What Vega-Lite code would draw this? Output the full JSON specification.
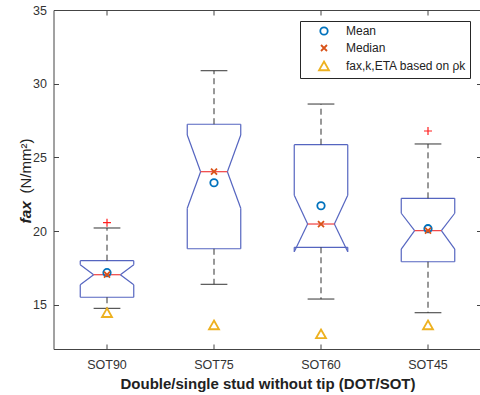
{
  "$schema": "https://vega.github.io/schema/vega-lite/v6.json",
  "autosize": {"type": "none"},
  "width": 428,
  "height": 339,
  "padding": {"left": 53.5, "top": 10, "right": 0, "bottom": 46},
  "config": {
    "font": "Liberation Sans",
    "view": {"stroke": null},
    "axis": {"grid": false, "domainColor": "#444", "tickColor": "#444", "labelColor": "#333", "titleColor": "#222", "labelFontSize": 12.5, "tickSize": -5, "domainWidth": 1, "tickWidth": 1}
  },
  "datasets": {
    "boxes": [
      {"cat": "SOT90", "wlo": 14.76, "q1": 15.51, "nlo": 16.36, "med": 17.04, "nhi": 17.72, "q3": 17.99, "whi": 20.21, "mean": 17.18, "tri": 14.46},
      {"cat": "SOT75", "wlo": 16.39, "q1": 18.80, "nlo": 21.55, "med": 24.03, "nhi": 26.52, "q3": 27.25, "whi": 30.88, "mean": 23.28, "tri": 13.63},
      {"cat": "SOT60", "wlo": 15.39, "q1": 18.90, "nlo": 18.60, "med": 20.48, "nhi": 22.43, "q3": 25.86, "whi": 28.62, "mean": 21.72, "tri": 13.02},
      {"cat": "SOT45", "wlo": 14.46, "q1": 17.92, "nlo": 18.78, "med": 20.03, "nhi": 21.21, "q3": 22.22, "whi": 25.91, "mean": 20.16, "tri": 13.63}
    ],
    "outliers": [
      {"cat": "SOT90", "value": 20.57},
      {"cat": "SOT45", "value": 26.79}
    ]
  },
  "data": {"name": "boxes"},
  "resolve": {"axis": {"x": "independent", "y": "independent"}},
  "encoding": {
    "x": {"field": "cat", "type": "nominal", "sort": ["SOT90", "SOT75", "SOT60", "SOT45"], "scale": {"paddingInner": 0, "paddingOuter": 0}, "axis": null}
  },
  "layer": [
    {
      "mark": {"type": "rule", "color": "#5565c0", "strokeWidth": 1.2},
      "encoding": {
        "x": {"field": "cat", "type": "nominal", "sort": ["SOT90", "SOT75", "SOT60", "SOT45"], "bandPosition": 0.25, "scale": {"paddingInner": 0, "paddingOuter": 0},
          "axis": {"orient": "bottom", "title": "Double/single stud without tip (DOT/SOT)", "titleFontSize": 15, "titleFontWeight": "bold", "labelAngle": 0, "labelPadding": 14, "titlePadding": 6}},
        "x2": {"field": "cat", "bandPosition": 0.75},
        "y": {"field": "q3", "type": "quantitative", "scale": {"domain": [12, 35], "nice": false, "zero": false},
          "axis": {"orient": "left", "values": [15, 20, 25, 30, 35], "title": "fax", "titleFontSize": 15.5, "titleFontWeight": "bold", "titleFontStyle": "italic", "labelPadding": 12, "titleAngle": -90, "titleAlign": "left", "titleBaseline": "alphabetic", "titleX": -23.5, "titleY": 213}}
      }
    },
    {
      "mark": {"type": "rule", "color": "#5565c0", "strokeWidth": 1.2},
      "encoding": {
        "x": {"field": "cat", "type": "nominal", "sort": ["SOT90", "SOT75", "SOT60", "SOT45"], "bandPosition": 0.25,
          "axis": {"orient": "top", "labels": false, "title": null, "domainColor": "#444"}},
        "x2": {"field": "cat", "bandPosition": 0.75},
        "y": {"field": "q1", "type": "quantitative",
          "axis": {"orient": "right", "values": [15, 20, 25, 30, 35], "labels": false, "title": null}}
      }
    },
    {
      "mark": {"type": "rule", "color": "#5565c0", "strokeWidth": 1.2},
      "encoding": {
        "x": {"field": "cat", "type": "nominal", "sort": ["SOT90", "SOT75", "SOT60", "SOT45"], "bandPosition": 0.25, "axis": null},
        "y": {"field": "q3", "type": "quantitative",
          "axis": {"orient": "left", "labels": false, "ticks": false, "domain": false, "title": "(N/mm²)", "titleFontSize": 15, "titleFontWeight": "normal", "titleAngle": -90, "titleAlign": "left", "titleBaseline": "alphabetic", "titleX": -23.5, "titleY": 183}},
        "y2": {"field": "nhi"}
      }
    },
    {
      "mark": {"type": "rule", "color": "#5565c0", "strokeWidth": 1.2},
      "encoding": {
        "x": {"field": "cat", "type": "nominal", "sort": ["SOT90", "SOT75", "SOT60", "SOT45"], "bandPosition": 0.75, "axis": null},
        "y": {"field": "q3", "type": "quantitative", "axis": null},
        "y2": {"field": "nhi"}
      }
    },
    {
      "mark": {"type": "rule", "color": "#5565c0", "strokeWidth": 1.2},
      "encoding": {
        "x": {"field": "cat", "type": "nominal", "sort": ["SOT90", "SOT75", "SOT60", "SOT45"], "bandPosition": 0.25, "axis": null},
        "x2": {"field": "cat", "bandPosition": 0.375},
        "y": {"field": "nhi", "type": "quantitative", "axis": null},
        "y2": {"field": "med"}
      }
    },
    {
      "mark": {"type": "rule", "color": "#5565c0", "strokeWidth": 1.2},
      "encoding": {
        "x": {"field": "cat", "type": "nominal", "sort": ["SOT90", "SOT75", "SOT60", "SOT45"], "bandPosition": 0.75, "axis": null},
        "x2": {"field": "cat", "bandPosition": 0.625},
        "y": {"field": "nhi", "type": "quantitative", "axis": null},
        "y2": {"field": "med"}
      }
    },
    {
      "mark": {"type": "rule", "color": "#5565c0", "strokeWidth": 1.2},
      "encoding": {
        "x": {"field": "cat", "type": "nominal", "sort": ["SOT90", "SOT75", "SOT60", "SOT45"], "bandPosition": 0.375, "axis": null},
        "x2": {"field": "cat", "bandPosition": 0.25},
        "y": {"field": "med", "type": "quantitative", "axis": null},
        "y2": {"field": "nlo"}
      }
    },
    {
      "mark": {"type": "rule", "color": "#5565c0", "strokeWidth": 1.2},
      "encoding": {
        "x": {"field": "cat", "type": "nominal", "sort": ["SOT90", "SOT75", "SOT60", "SOT45"], "bandPosition": 0.625, "axis": null},
        "x2": {"field": "cat", "bandPosition": 0.75},
        "y": {"field": "med", "type": "quantitative", "axis": null},
        "y2": {"field": "nlo"}
      }
    },
    {
      "mark": {"type": "rule", "color": "#5565c0", "strokeWidth": 1.2},
      "encoding": {
        "x": {"field": "cat", "type": "nominal", "sort": ["SOT90", "SOT75", "SOT60", "SOT45"], "bandPosition": 0.25, "axis": null},
        "y": {"field": "nlo", "type": "quantitative", "axis": null},
        "y2": {"field": "q1"}
      }
    },
    {
      "mark": {"type": "rule", "color": "#5565c0", "strokeWidth": 1.2},
      "encoding": {
        "x": {"field": "cat", "type": "nominal", "sort": ["SOT90", "SOT75", "SOT60", "SOT45"], "bandPosition": 0.75, "axis": null},
        "y": {"field": "nlo", "type": "quantitative", "axis": null},
        "y2": {"field": "q1"}
      }
    },
    {
      "mark": {"type": "rule", "color": "#333", "strokeWidth": 1, "strokeDash": [6, 4]},
      "encoding": {
        "x": {"field": "cat", "type": "nominal", "sort": ["SOT90", "SOT75", "SOT60", "SOT45"], "axis": null},
        "y": {"field": "q3", "type": "quantitative", "axis": null},
        "y2": {"field": "whi"}
      }
    },
    {
      "mark": {"type": "rule", "color": "#333", "strokeWidth": 1, "strokeDash": [6, 4]},
      "encoding": {
        "x": {"field": "cat", "type": "nominal", "sort": ["SOT90", "SOT75", "SOT60", "SOT45"], "axis": null},
        "y": {"field": "q1", "type": "quantitative", "axis": null},
        "y2": {"field": "wlo"}
      }
    },
    {
      "mark": {"type": "rule", "color": "#333", "strokeWidth": 1},
      "encoding": {
        "x": {"field": "cat", "type": "nominal", "sort": ["SOT90", "SOT75", "SOT60", "SOT45"], "bandPosition": 0.375, "axis": null},
        "x2": {"field": "cat", "bandPosition": 0.625},
        "y": {"field": "whi", "type": "quantitative", "axis": null}
      }
    },
    {
      "mark": {"type": "rule", "color": "#333", "strokeWidth": 1},
      "encoding": {
        "x": {"field": "cat", "type": "nominal", "sort": ["SOT90", "SOT75", "SOT60", "SOT45"], "bandPosition": 0.375, "axis": null},
        "x2": {"field": "cat", "bandPosition": 0.625},
        "y": {"field": "wlo", "type": "quantitative", "axis": null}
      }
    },
    {
      "mark": {"type": "rule", "color": "#f04040", "strokeWidth": 1.2},
      "encoding": {
        "x": {"field": "cat", "type": "nominal", "sort": ["SOT90", "SOT75", "SOT60", "SOT45"], "bandPosition": 0.375, "axis": null},
        "x2": {"field": "cat", "bandPosition": 0.625},
        "y": {"field": "med", "type": "quantitative", "axis": null}
      }
    },
    {
      "data": {"name": "outliers"},
      "mark": {"type": "point", "shape": "M-1,0L1,0M0,-1L0,1", "filled": false, "color": "#ff2020", "size": 64, "strokeWidth": 1.2, "opacity": 1},
      "encoding": {
        "x": {"field": "cat", "type": "nominal", "sort": ["SOT90", "SOT75", "SOT60", "SOT45"], "axis": null},
        "y": {"field": "value", "type": "quantitative", "axis": null}
      }
    },
    {
      "transform": [{"fold": ["mean", "med", "tri"], "as": ["stat", "val"]}],
      "mark": {"type": "point", "filled": false, "strokeWidth": 1.8, "opacity": 1},
      "encoding": {
        "x": {"field": "cat", "type": "nominal", "sort": ["SOT90", "SOT75", "SOT60", "SOT45"], "axis": null},
        "y": {"field": "val", "type": "quantitative", "axis": null},
        "color": {"field": "stat", "type": "nominal", "scale": {"domain": ["mean", "med", "tri"], "range": ["#0072BD", "#D95319", "#EDB120"]},
          "legend": {"title": null, "orient": "none", "legendX": 246.5, "legendY": 11, "strokeColor": "#262626", "fillColor": "white", "padding": 4, "symbolOffset": 14, "labelOffset": 16, "labelFontSize": 12, "labelColor": "#222", "rowPadding": 2, "symbolStrokeWidth": 1.8,
            "labelExpr": "datum.value == 'mean' ? 'Mean' : datum.value == 'med' ? 'Median' : 'fax,k,ETA based on ρk'"}},
        "shape": {"field": "stat", "type": "nominal", "scale": {"domain": ["mean", "med", "tri"], "range": ["circle", "M-1,-1L1,1M-1,1L1,-1", "M0,-0.9L1,0.85L-1,0.85Z"]}},
        "size": {"field": "stat", "type": "ordinal", "scale": {"type": "ordinal", "domain": ["mean", "med", "tri"], "range": [55, 36, 100]}}
      }
    }
  ]
}
